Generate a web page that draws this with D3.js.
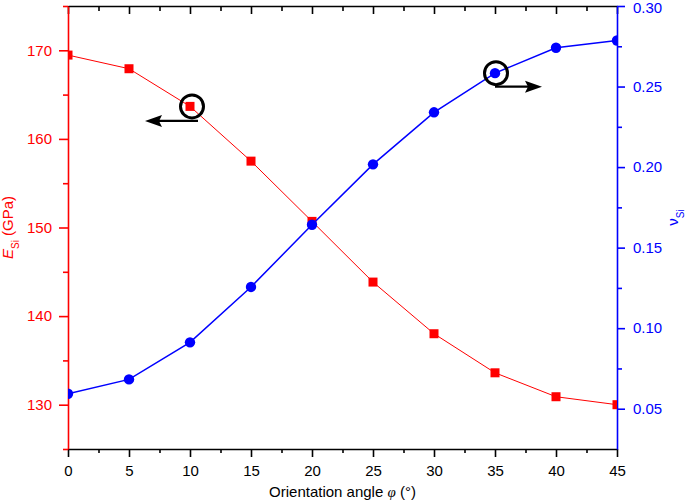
<!DOCTYPE html>
<html>
<head>
<meta charset="utf-8">
<script src="https://cdn.jsdelivr.net/npm/d3@7"></script>
<style>
  body { margin: 0; background: #fff; }
  svg { font-family: "Liberation Sans", Arial, sans-serif; }
</style>
</head>
<body>
<div id="chart"></div>
<script>
const angles = [0, 5, 10, 15, 20, 25, 30, 35, 40, 45];
const modulus = [169.46, 167.92, 163.67, 157.49, 150.69, 143.84, 138.01, 133.6, 130.9, 130.0];
const poisson = [0.0593, 0.0682, 0.0912, 0.1256, 0.1642, 0.2017, 0.234, 0.2583, 0.2741, 0.2786];
const xTicks = [0, 5, 10, 15, 20, 25, 30, 35, 40, 45];
const leftTicks = [130, 140, 150, 160, 170];
const rightTicks = [0.05, 0.10, 0.15, 0.20, 0.25, 0.30];

const svgWidth = 685;
const svgHeight = 502;
const margin = { top: 6, right: 68, bottom: 53, left: 68 };
const w = svgWidth - margin.left - margin.right;
const h = svgHeight - margin.top - margin.bottom;

const svg = d3.select("#chart")
  .append("svg")
  .attr("width", svgWidth)
  .attr("height", svgHeight);

const g = svg.append("g")
  .attr("transform", `translate(${margin.left},${margin.top})`);

// scales
const x = d3.scaleLinear().domain([0, 45]).range([0, w]);
const yL = d3.scaleLinear().domain([125, 175]).range([h, 0]);
const yR = d3.scaleLinear().domain([0.025, 0.30]).range([h, 0]);

const minorX = d3.range(2.5, 45, 5);
const minorL = d3.range(125, 176, 10);
const minorR = d3.range(0.075, 0.3, 0.05);

svg.append("defs").append("clipPath").attr("id", "plot")
  .append("rect").attr("width", w).attr("height", h);

// axes helper
function styleAxis(sel, color) {
  sel.select(".domain").attr("stroke", color).attr("stroke-width", 1.6);
  sel.selectAll(".tick line").attr("stroke", color).attr("stroke-width", 1.6);
  sel.selectAll("text").attr("fill", color).style("font-size", "15px")
    .style("font-family", "'Liberation Sans', Arial, sans-serif");
}

// bottom axis
const xAxis = g.append("g").attr("transform", `translate(0,${h})`)
  .call(d3.axisBottom(x).tickValues(xTicks).tickSize(8).tickPadding(8).tickSizeOuter(0));
styleAxis(xAxis, "#000");
g.append("g").attr("transform", `translate(0,${h})`)
  .call(d3.axisBottom(x).tickValues(minorX).tickSize(4).tickFormat("").tickSizeOuter(0))
  .call(s => { s.select(".domain").remove(); styleAxis(s, "#000"); });

// top axis (ticks inward)
const topAxis = g.append("g")
  .call(d3.axisBottom(x).tickValues(xTicks).tickSize(8).tickFormat("").tickSizeOuter(0));
styleAxis(topAxis, "#000");
g.append("g")
  .call(d3.axisBottom(x).tickValues(minorX).tickSize(5).tickFormat("").tickSizeOuter(0))
  .call(s => { s.select(".domain").remove(); styleAxis(s, "#000"); });

// left axis
const lAxis = g.append("g")
  .call(d3.axisLeft(yL).tickValues(leftTicks).tickSize(9).tickPadding(7).tickSizeOuter(0));
styleAxis(lAxis, "#ff0000");
g.append("g")
  .call(d3.axisLeft(yL).tickValues(minorL).tickSize(5).tickFormat("").tickSizeOuter(0))
  .call(s => { s.select(".domain").remove(); styleAxis(s, "#ff0000"); });

// right axis
const rAxis = g.append("g").attr("transform", `translate(${w},0)`)
  .call(d3.axisRight(yR).tickValues(rightTicks).tickSize(8).tickPadding(8)
    .tickFormat(d3.format(".2f")).tickSizeOuter(0));
styleAxis(rAxis, "#0000ff");
// keep the top label inside the picture
rAxis.selectAll(".tick text").filter(d => d === 0.30).attr("dy", "0.42em");
g.append("g").attr("transform", `translate(${w},0)`)
  .call(d3.axisRight(yR).tickValues(minorR).tickSize(5).tickFormat("").tickSizeOuter(0))
  .call(s => { s.select(".domain").remove(); styleAxis(s, "#0000ff"); });

// series
const plot = g.append("g").attr("clip-path", "url(#plot)");
const red = angles.map((a, i) => [a, modulus[i]]);
const blue = angles.map((a, i) => [a, poisson[i]]);

plot.append("path").datum(red)
  .attr("fill", "none").attr("stroke", "#ff0000").attr("stroke-width", 1)
  .attr("d", d3.line().x(d => x(d[0])).y(d => yL(d[1])));
plot.selectAll(".sq").data(red).enter().append("rect")
  .attr("x", d => x(d[0]) - 4.5).attr("y", d => yL(d[1]) - 4.5)
  .attr("width", 9).attr("height", 9).attr("fill", "#ff0000");

plot.append("path").datum(blue)
  .attr("fill", "none").attr("stroke", "#0000ff").attr("stroke-width", 1.5)
  .attr("d", d3.line().x(d => x(d[0])).y(d => yR(d[1])));
plot.selectAll(".dot").data(blue).enter().append("circle")
  .attr("cx", d => x(d[0])).attr("cy", d => yR(d[1])).attr("r", 5.2)
  .attr("fill", "#0000ff");

// annotation: circle + arrow pointing to the axis
function pointer(cx, cy, lineFrom, tipX, ay) {
  g.append("circle").attr("cx", cx).attr("cy", cy).attr("r", 11.5)
    .attr("fill", "none").attr("stroke", "#000").attr("stroke-width", 3);
  const dir = Math.sign(tipX - lineFrom);
  const base = tipX - dir * 17;
  g.append("line")
    .attr("x1", lineFrom).attr("y1", ay).attr("x2", base + dir * 3).attr("y2", ay)
    .attr("stroke", "#000").attr("stroke-width", 2.4);
  g.append("path")
    .attr("d", `M${tipX},${ay} L${base},${ay - 6} L${base + dir * 3},${ay} L${base},${ay + 6} Z`)
    .attr("fill", "#000");
}

const c1 = [x(10) + 2, yL(modulus[2])];
pointer(c1[0], c1[1], c1[0] + 6, c1[0] - 47, c1[1] + 14.5);

const c2 = [x(35) + 1, yR(poisson[7])];
pointer(c2[0], c2[1], c2[0] - 1, c2[0] + 46, c2[1] + 13.5);

// axis titles
const xt = svg.append("text")
  .attr("x", margin.left + w / 2).attr("y", 497)
  .attr("text-anchor", "middle").style("font-size", "15px").attr("fill", "#000");
xt.append("tspan").text("Orientation angle ");
xt.append("tspan").text("φ").style("font-family", "'Liberation Serif', serif").style("font-style", "italic");
xt.append("tspan").text(" (°)");

const lt = svg.append("text")
  .attr("transform", `translate(13,${margin.top + h / 2}) rotate(-90)`)
  .attr("text-anchor", "middle").style("font-size", "15px").attr("fill", "#ff0000");
lt.append("tspan").text("E").style("font-style", "italic");
lt.append("tspan").text("Si").attr("baseline-shift", "sub").style("font-size", "10px");
lt.append("tspan").text(" (GPa)");

const rt = svg.append("text")
  .attr("transform", `translate(678,${margin.top + h / 2 - 10}) rotate(-90)`)
  .attr("text-anchor", "middle").style("font-size", "15px").attr("fill", "#0000ff");
rt.append("tspan").text("ν");
rt.append("tspan").text("Si").attr("baseline-shift", "sub").style("font-size", "10px");
</script>
</body>
</html>
